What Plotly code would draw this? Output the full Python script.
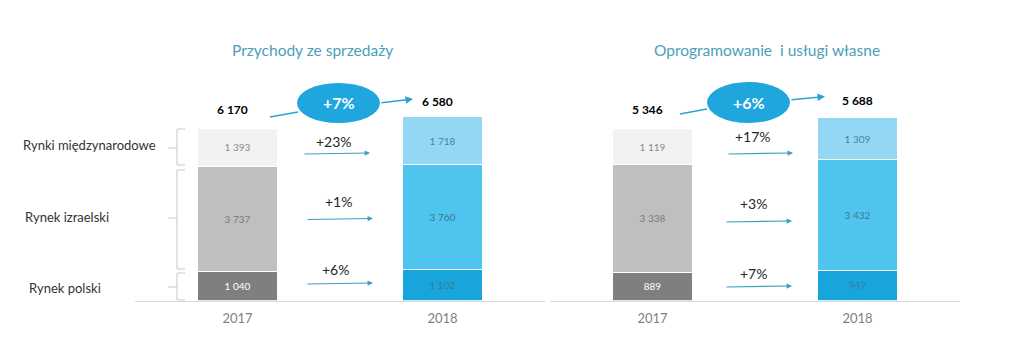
import plotly.graph_objects as go

# ---------------- data ----------------
years = ["2017", "2018"]
segments = ["Rynek polski", "Rynek izraelski", "Rynki międzynarodowe"]

sales_pl = [1040, 1102]
sales_il = [3737, 3760]
sales_int = [1393, 1718]
sales_total = [6170, 6580]
sales_growth = ["+6%", "+1%", "+23%"]
sales_total_growth = "+7%"

own_pl = [889, 947]
own_il = [3338, 3432]
own_int = [1119, 1309]
own_total = [5346, 5688]
own_growth = ["+7%", "+3%", "+17%"]
own_total_growth = "+6%"

titles = ["Przychody ze sprzedaży", "Oprogramowanie  i usługi własne"]

# ---------------- layout helpers ----------------
W, H = 1023, 363
FONT = "Lato"


def px(x):
    return x / W


def py(y):
    return 1 - y / H


def fmt(v):
    return f"{v:,}".replace(",", " ")


col17 = ["#7f7f7f", "#bfbfbf", "#f2f2f2"]
col18 = ["#17a5dc", "#4fc4ef", "#93d7f4"]
txt17 = ["#ffffff", "#7a7a7a", "#8a8a8a"]
txt18 = ["#3b7a98", "#3d7892", "#4a82a0"]

fig = go.Figure()

panels = [
    (sales_pl, sales_il, sales_int, "x", "y"),
    (own_pl, own_il, own_int, "x2", "y2"),
]
for pl, il, it, xa, ya in panels:
    for i, vals in enumerate([pl, il, it]):
        fig.add_trace(go.Bar(
            x=[0, 1], y=vals, xaxis=xa, yaxis=ya, width=0.395,
            name=segments[i], showlegend=False,
            marker=dict(color=[col17[i], col18[i]], line=dict(color="white", width=1)),
            text=[fmt(v) for v in vals], textposition="inside",
            insidetextanchor="middle", constraintext="none",
            textfont=dict(family=FONT, size=10, color=[txt17[i], txt18[i]]),
            hoverinfo="skip",
        ))

base_y = 300.7
ydom = [py(base_y), 1]
yrange_left = base_y / 0.02799
yrange_right = base_y / 0.0322

axis_common = dict(range=[-0.5, 1.5], tickvals=[0, 1], ticktext=years, showgrid=False,
                   zeroline=False, showline=True, linecolor="#d9d9d9", linewidth=1,
                   ticks="", ticklabelstandoff=6,
                   tickfont=dict(family=FONT, size=13, color="#808080"),
                   fixedrange=True)
fig.update_layout(
    width=W, height=H, margin=dict(l=0, r=0, t=0, b=0),
    paper_bgcolor="white", plot_bgcolor="white", barmode="stack", bargap=0,
    xaxis=dict(domain=[px(135), px(545)], anchor="y", **axis_common),
    xaxis2=dict(domain=[px(550), px(960)], anchor="y2", **axis_common),
    yaxis=dict(domain=ydom, range=[0, yrange_left], visible=False, anchor="x", fixedrange=True),
    yaxis2=dict(domain=ydom, range=[0, yrange_right], visible=False, anchor="x2", fixedrange=True),
    font=dict(family=FONT),
    hovermode=False,
)

shapes = []
ann = []


def text_ann(t, cx, cy, size, color):
    return dict(x=px(cx), y=py(cy), xref="paper", yref="paper", text=t, showarrow=False,
                xanchor="center", yanchor="middle",
                font=dict(family=FONT, size=size, color=color))


def arrow_ann(tx, ty, hx, hy, width, color, size):
    return dict(x=px(hx), y=py(hy), xref="paper", yref="paper", text="",
                showarrow=True, ax=tx - hx, ay=ty - hy, arrowhead=2, arrowsize=size,
                arrowwidth=width, arrowcolor=color, standoff=0)


# titles
for t, cx in zip(titles, [312, 767]):
    ann.append(text_ann(t, cx, 50, 15.5, "#4aa0b8"))

# row labels + brackets
row_labels = [(segments[2], 89, 145), (segments[1], 67, 217), (segments[0], 65, 288)]
for t, cx, cy in row_labels:
    ann.append(text_ann(t, cx, cy, 13, "#333333"))

brackets = [(129, 165, 148), (170, 269, 218), (273, 300, 287)]
for y0, y1, ym in brackets:
    path = (f"M {px(185)} {py(y0)} L {px(177)} {py(y0)} L {px(177)} {py(y1)} L {px(185)} {py(y1)} "
            f"M {px(177)} {py(ym)} L {px(168)} {py(ym)}")
    shapes.append(dict(type="path", path=path, xref="paper", yref="paper",
                       line=dict(color="#c8c8c8", width=1)))

# totals and total-growth ellipses
tot_specs = [
    (sales_total, sales_total_growth, (232, 109), (437, 101),
     (270, 117, 298, 112), (380, 103, 413, 99), (297, 83, 380, 123)),
    (own_total, own_total_growth, (647, 110), (857, 100),
     (680, 114, 707, 109), (790, 100, 825, 96.5), (707, 82, 790, 123)),
]
for tot, g, p17, p18, seg, arr, ell in tot_specs:
    for v, (cx, cy) in zip(tot, [p17, p18]):
        ann.append(text_ann(f"<b>{fmt(v)}</b>", cx, cy, 12, "#000000"))
    shapes.append(dict(type="line", xref="paper", yref="paper",
                       x0=px(seg[0]), y0=py(seg[1]), x1=px(seg[2]), y1=py(seg[3]),
                       line=dict(color="#2aa3d0", width=1.5)))
    ann.append(arrow_ann(arr[0], arr[1], arr[2], arr[3], 1.5, "#2aa3d0", 1))
    shapes.append(dict(type="circle", xref="paper", yref="paper",
                       x0=px(ell[0]), y0=py(ell[3]), x1=px(ell[2]), y1=py(ell[1]),
                       fillcolor="#1ea6dd", line=dict(width=0)))
    ann.append(text_ann(f"<b>{g}</b>", (ell[0] + ell[2]) / 2, (ell[1] + ell[3]) / 2, 16, "white"))

# segment growth arrows
seg_specs = [
    (sales_growth, [(306, 284, 373, 283, 269, 335), (306, 219.5, 373, 218.5, 202, 338),
                    (303, 154, 370, 153, 141, 334)]),
    (own_growth, [(725, 287, 792, 286, 273, 753), (725, 222, 792, 221, 203, 753),
                  (727, 154, 793, 153, 136, 753)]),
]
for growth, specs in seg_specs:
    for g, (tx, ty, hx, hy, ly, lx) in zip(growth, specs):
        ann.append(arrow_ann(tx, ty, hx, hy, 1.2, "#3a9fc2", 0.9))
        ann.append(text_ann(g, lx, ly, 14, "#262626"))

fig.update_layout(shapes=shapes, annotations=ann)
fig.write_html("out.html", config={"displayModeBar": False, "staticPlot": True},
               post_script="document.body.style.margin='0';")
